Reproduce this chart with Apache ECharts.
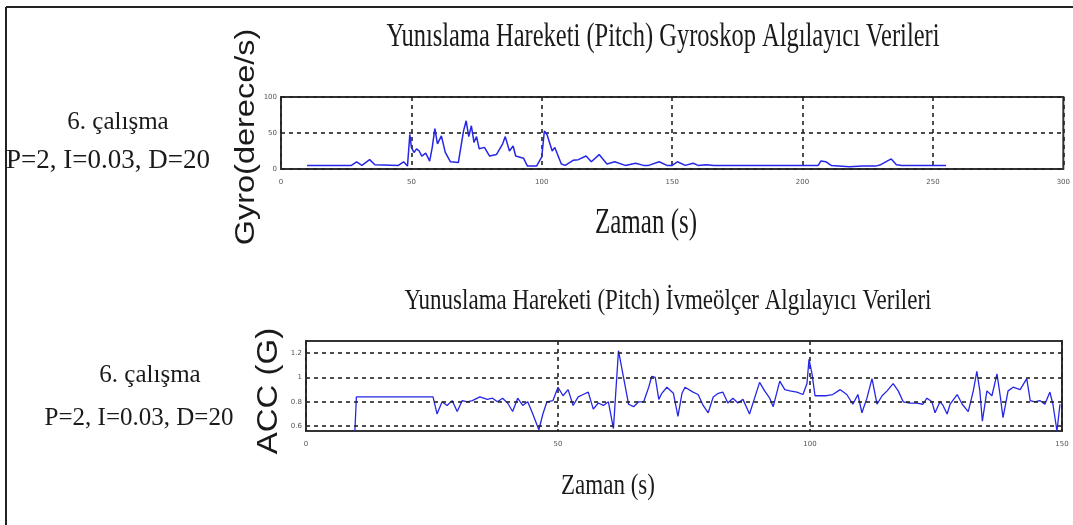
<!DOCTYPE html>
<html>
<head>
<meta charset="utf-8">
<script src="https://cdn.jsdelivr.net/npm/echarts@6/dist/echarts.min.js"></script>
<style>
html,body{margin:0;padding:0;background:#fff;}
#c{width:1073px;height:525px;}
</style>
</head>
<body>
<div id="c"></div>
<script>
// ---- Data ----
const gyroTime = [10,27,29,31,34,36,45,47,48.5,49.4,50,51,52,53,54,55.5,57,58,59,60,61.5,63,65,68,70,71,72,73,74,75,76,78,80,82.6,85,86,87.6,89,90,93,94.5,98,100,101,102,104,105,107.5,109,112,114,117,119,122,125,128,132,136,139,141,145,148,150,152,155,158,160,163,166,206,207,209,211,218,223,228,230,234,236,238,255];
const gyroValue = [5,5,10,5,13,6,5,10,4,48,30,23,28,25,18,22,11,30,56,35,46,23,10,9,53,67,45,60,37,45,28,30,18,20,35,45,25,32,18,15,4,4,17,53,48,25,30,7,5,12,13,18,10,20,7,10,5,8,5,5,10,5,5,10,5,8,5,6,5,5,11,10,5,3,4,4,6,14,6,5,5];

const accTime = [9.7,10,25.2,26,27,28,29,30,31,32,33,34.5,36,37,38,39,40,41,42,43,44,45,46.2,47,47.8,49,50,51,52,53,54,55,56,57,58,59,60,61,62,63,64,65,66,67,68,68.6,69.3,70,70.6,71.6,72.9,73.8,74.6,75.2,76.8,77.8,78.8,79.8,80.8,81.8,82.7,83.7,84.7,85.7,86.7,88,89,90,91,92,92.7,94,95,96,97.4,98.6,99.4,99.8,100.4,101,101.4,103.3,104.5,106,107.3,108.5,109.5,110.3,111.3,112.3,113.3,114.3,115.3,116.5,117.5,118.5,119.8,121.2,122.4,123.2,124.2,124.8,125.8,126.4,127.2,127.8,129.2,130.2,131.4,132.4,133.1,133.7,134.2,135.1,136.1,137.1,137.7,138.3,139.3,140.3,141.7,143,143.7,144.6,145.6,146.6,147.6,148.2,149,149.6];
const accValue = [0.56,0.84,0.84,0.70,0.80,0.77,0.81,0.72,0.81,0.80,0.81,0.84,0.82,0.83,0.80,0.83,0.79,0.72,0.83,0.77,0.80,0.70,0.57,0.70,0.80,0.81,0.92,0.85,0.90,0.77,0.84,0.86,0.88,0.74,0.79,0.77,0.80,0.58,1.22,1.00,0.78,0.76,0.80,0.80,0.92,1.01,1.00,0.82,0.87,0.92,0.87,0.68,0.87,0.92,0.88,0.86,0.77,0.71,0.84,0.87,0.88,0.79,0.83,0.79,0.82,0.70,0.83,0.96,0.89,0.83,0.76,0.97,0.90,0.89,0.88,0.86,0.95,1.15,1.03,0.85,0.85,0.85,0.86,0.90,0.86,0.78,0.86,0.71,0.83,0.99,0.78,0.85,0.89,0.95,0.89,0.80,0.79,0.79,0.78,0.83,0.80,0.71,0.80,0.77,0.70,0.78,0.86,0.78,0.72,0.89,1.05,0.89,0.64,0.89,0.85,1.03,0.86,0.67,0.89,0.92,0.90,0.99,0.81,0.80,0.81,0.78,0.88,0.78,0.56,0.78];

const gyroXTicks = [0,50,100,150,200,250,300];
const gyroYTicks = [0,50,100];
const accXTicks = [0,50,100,150];
const accYTicks = [0.6,0.8,1,1.2];
const accYLabels = ['0.6','0.8','1','1.2'];

const title1 = 'Yunıslama Hareketi (Pitch) Gyroskop Algılayıcı Verileri';
const title2 = 'Yunuslama Hareketi (Pitch) İvmeölçer Algılayıcı Verileri';
const xName = 'Zaman (s)';
const gyroYName = 'Gyro(derece/s)';
const accYName = 'ACC (G)';
const runLabel = '6. çalışma';
const pidLabel = 'P=2, I=0.03, D=20';

// ---- Chart ----
const chart = echarts.init(document.getElementById('c'), null, {renderer:'canvas'});
const serif = 'Liberation Serif';
const dashStyle = {color:'#222', type:[4,4], width:1.6};
const tickLabel = {fontSize:7, color:'#555', fontFamily:'DejaVu Sans'};

function txt(text, x, y, size, family, rot, sy){
  return {type:'text', x:x, y:y, rotation: rot||0, scaleY: sy||1, z:10,
    style:{text:text, x:0, y:0, align:'center', verticalAlign:'middle',
      font: size + 'px "' + family + '"', fill:'#1a1a1a'}};
}

chart.setOption({
  animation:false,
  backgroundColor:'#fff',
  grid:[
    {left:281, top:97, width:784, height:72, show:true, borderColor:'#333', borderWidth:2, backgroundColor:'#fff'},
    {left:306, top:341, width:756, height:90, show:true, borderColor:'#333', borderWidth:2, backgroundColor:'#fff'}
  ],
  xAxis:[
    {gridIndex:0, type:'value', min:gyroXTicks[0], max:gyroXTicks[gyroXTicks.length-1], interval:50,
      axisLine:{show:false}, axisTick:{show:false},
      axisLabel:Object.assign({margin:10}, tickLabel),
      splitLine:{show:true, lineStyle:dashStyle}},
    {gridIndex:1, type:'value', min:accXTicks[0], max:accXTicks[accXTicks.length-1], interval:50,
      axisLine:{show:false}, axisTick:{show:false},
      axisLabel:Object.assign({margin:10}, tickLabel),
      splitLine:{show:true, lineStyle:dashStyle}}
  ],
  yAxis:[
    {gridIndex:0, type:'value', min:gyroYTicks[0], max:gyroYTicks[gyroYTicks.length-1], interval:50,
      axisLine:{show:false}, axisTick:{show:false},
      axisLabel:Object.assign({margin:4}, tickLabel),
      splitLine:{show:true, lineStyle:dashStyle}},
    {gridIndex:1, type:'value', min:0.56, max:1.3,
      axisLine:{show:false}, axisTick:{show:false},
      axisLabel:Object.assign({margin:4, customValues:accYTicks,
        formatter:function(v){const i=accYTicks.findIndex(t=>Math.abs(t-v)<1e-6);return i>=0?accYLabels[i]:'';}}, tickLabel),
      splitLine:{show:false}}
  ],
  series:[
    {type:'line', xAxisIndex:0, yAxisIndex:0, showSymbol:false, symbol:'none',
      data:gyroTime.map((t,i)=>[t,gyroValue[i]]),
      lineStyle:{color:'#2626e6', width:1.5}},
    {type:'line', xAxisIndex:1, yAxisIndex:1, showSymbol:false, symbol:'none', clip:true,
      data:accTime.map((t,i)=>[t,accValue[i]]),
      lineStyle:{color:'#2626e6', width:1.3},
      markLine:{silent:true, symbol:'none', label:{show:false},
        lineStyle:dashStyle,
        data:accYTicks.map(v=>({yAxis:v}))}}
  ],
  graphic:[
    {type:'line', shape:{x1:6,y1:7,x2:1073,y2:7}, style:{stroke:'#222', lineWidth:2}},
    {type:'line', shape:{x1:6,y1:7,x2:6,y2:525}, style:{stroke:'#222', lineWidth:2}},
    txt(title1, 663, 37, 24.5, serif, 0, 1.35),
    txt(xName, 646, 224, 25, serif, 0, 1.4),
    txt(title2, 668, 301, 23, serif, 0, 1.3),
    txt(xName, 608, 486, 23, serif, 0, 1.3),
    txt(runLabel, 118, 122, 25, serif),
    txt(pidLabel, 108, 161, 27, serif),
    txt(runLabel, 150, 375, 25, serif),
    txt(pidLabel, 139, 418, 25, serif),
    txt(gyroYName, 246, 137, 32.5, 'Liberation Sans', Math.PI/2, 0.85),
    txt(accYName, 269, 391, 33, 'Liberation Sans', Math.PI/2, 0.87)
  ]
});
</script>
</body>
</html>
